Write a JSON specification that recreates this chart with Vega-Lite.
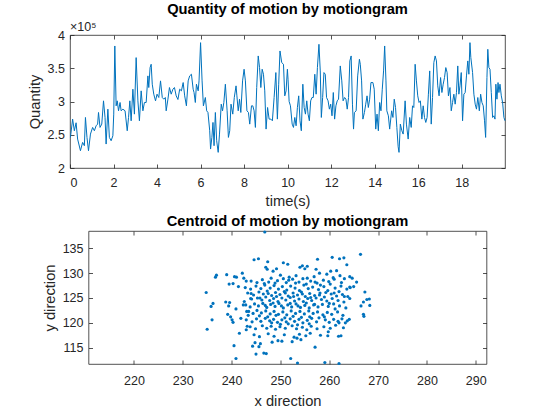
{
"$schema": "https://vega.github.io/schema/vega-lite/v6.json",
"background": "white",
"padding": {"left": 26, "top": 1, "right": 5, "bottom": 5},
"bounds": "flush",
"center": true,
"spacing": 63,
"config": {
  "font": "Liberation Sans",
  "view": {"stroke": "#262626", "strokeWidth": 0.8},
  "axis": {"domain": false, "grid": false, "tickSize": -4, "tickColor": "#262626", "tickWidth": 0.8, "labelColor": "#262626", "labelFontSize": 12.5, "labelFont": "Liberation Sans", "titleFont": "Liberation Sans", "titleFontSize": 14.7, "titleFontWeight": "normal", "titleColor": "#262626"},
  "title": {"font": "Liberation Sans", "fontSize": 14.7, "fontWeight": "bold", "color": "#000000", "frame": "group", "anchor": "middle"}
},
"datasets": {
"q": [
{"t":0.02,"q":246000},{"t":0.12,"q":273500},{"t":0.2,"q":256000},{"t":0.28,"q":268000},{"t":0.35,"q":243500},{"t":0.48,"q":226000},{"t":0.58,"q":238500},{"t":0.66,"q":233500},{"t":0.71,"q":276000},{"t":0.78,"q":246000},{"t":0.85,"q":226000},{"t":0.94,"q":251000},{"t":1.04,"q":261000},{"t":1.12,"q":256000},{"t":1.2,"q":263500},{"t":1.27,"q":266000},{"t":1.31,"q":283500},{"t":1.38,"q":261000},{"t":1.46,"q":266000},{"t":1.54,"q":301000},{"t":1.61,"q":276000},{"t":1.66,"q":236000},{"t":1.74,"q":288500},{"t":1.81,"q":246000},{"t":1.89,"q":241000},{"t":1.97,"q":248500},{"t":2.01,"q":281000},{"t":2.06,"q":383500},{"t":2.12,"q":293500},{"t":2.17,"q":301000},{"t":2.23,"q":286000},{"t":2.3,"q":298500},{"t":2.35,"q":286000},{"t":2.43,"q":288500},{"t":2.53,"q":286000},{"t":2.63,"q":256000},{"t":2.69,"q":276000},{"t":2.75,"q":301000},{"t":2.81,"q":271000},{"t":2.89,"q":318500},{"t":2.96,"q":281000},{"t":3.04,"q":366000},{"t":3.12,"q":301000},{"t":3.19,"q":271000},{"t":3.27,"q":316000},{"t":3.35,"q":286000},{"t":3.42,"q":298500},{"t":3.5,"q":298500},{"t":3.58,"q":338500},{"t":3.62,"q":321000},{"t":3.68,"q":351000},{"t":3.73,"q":356000},{"t":3.78,"q":326000},{"t":3.85,"q":311000},{"t":3.93,"q":301000},{"t":4.0,"q":311000},{"t":4.08,"q":306000},{"t":4.16,"q":331000},{"t":4.24,"q":306000},{"t":4.31,"q":303500},{"t":4.38,"q":306000},{"t":4.42,"q":286000},{"t":4.5,"q":303500},{"t":4.57,"q":321000},{"t":4.65,"q":311000},{"t":4.73,"q":318500},{"t":4.8,"q":321000},{"t":4.88,"q":308500},{"t":4.96,"q":303000},{"t":5.04,"q":318500},{"t":5.12,"q":316000},{"t":5.2,"q":328500},{"t":5.27,"q":308500},{"t":5.35,"q":293500},{"t":5.43,"q":331000},{"t":5.5,"q":338500},{"t":5.58,"q":341000},{"t":5.66,"q":318500},{"t":5.7,"q":313500},{"t":5.76,"q":298500},{"t":5.81,"q":326000},{"t":5.89,"q":316000},{"t":5.93,"q":331000},{"t":6.0,"q":388500},{"t":6.07,"q":331000},{"t":6.13,"q":293500},{"t":6.22,"q":306000},{"t":6.28,"q":286000},{"t":6.34,"q":283500},{"t":6.42,"q":256000},{"t":6.46,"q":228500},{"t":6.52,"q":246000},{"t":6.57,"q":268500},{"t":6.62,"q":233500},{"t":6.68,"q":283500},{"t":6.74,"q":241000},{"t":6.81,"q":223500},{"t":6.87,"q":251000},{"t":6.95,"q":296000},{"t":7.01,"q":286000},{"t":7.07,"q":298500},{"t":7.14,"q":326000},{"t":7.22,"q":286000},{"t":7.28,"q":246000},{"t":7.34,"q":256000},{"t":7.4,"q":296000},{"t":7.48,"q":281000},{"t":7.55,"q":306000},{"t":7.63,"q":323500},{"t":7.67,"q":308500},{"t":7.73,"q":286000},{"t":7.79,"q":303500},{"t":7.85,"q":283500},{"t":7.93,"q":331000},{"t":8.0,"q":348500},{"t":8.06,"q":331000},{"t":8.13,"q":286000},{"t":8.2,"q":283500},{"t":8.26,"q":266000},{"t":8.34,"q":293500},{"t":8.4,"q":293500},{"t":8.46,"q":286000},{"t":8.52,"q":261000},{"t":8.58,"q":321000},{"t":8.65,"q":368500},{"t":8.71,"q":351000},{"t":8.77,"q":321000},{"t":8.83,"q":348500},{"t":8.89,"q":341000},{"t":8.95,"q":316000},{"t":9.01,"q":258500},{"t":9.08,"q":291000},{"t":9.15,"q":273500},{"t":9.23,"q":273500},{"t":9.3,"q":271000},{"t":9.38,"q":306000},{"t":9.46,"q":343500},{"t":9.53,"q":273500},{"t":9.59,"q":326000},{"t":9.65,"q":376000},{"t":9.73,"q":358500},{"t":9.81,"q":356000},{"t":9.87,"q":308500},{"t":9.93,"q":316000},{"t":9.99,"q":348500},{"t":10.02,"q":333500},{"t":10.07,"q":300000},{"t":10.13,"q":293500},{"t":10.21,"q":266000},{"t":10.27,"q":261000},{"t":10.33,"q":276000},{"t":10.39,"q":263500},{"t":10.45,"q":291000},{"t":10.51,"q":308500},{"t":10.57,"q":271000},{"t":10.63,"q":256000},{"t":10.7,"q":326000},{"t":10.76,"q":291000},{"t":10.82,"q":281000},{"t":10.88,"q":301000},{"t":10.94,"q":281000},{"t":11.0,"q":271000},{"t":11.06,"q":301000},{"t":11.12,"q":306000},{"t":11.18,"q":306000},{"t":11.25,"q":341000},{"t":11.31,"q":311000},{"t":11.37,"q":351000},{"t":11.44,"q":386000},{"t":11.5,"q":346000},{"t":11.55,"q":276000},{"t":11.61,"q":306000},{"t":11.67,"q":343500},{"t":11.73,"q":341000},{"t":11.79,"q":306000},{"t":11.86,"q":301000},{"t":11.92,"q":288500},{"t":11.98,"q":296000},{"t":12.04,"q":278500},{"t":12.1,"q":313500},{"t":12.16,"q":273500},{"t":12.22,"q":293500},{"t":12.28,"q":301000},{"t":12.34,"q":303500},{"t":12.42,"q":353500},{"t":12.49,"q":331000},{"t":12.55,"q":301000},{"t":12.62,"q":306000},{"t":12.68,"q":303500},{"t":12.74,"q":288500},{"t":12.8,"q":306000},{"t":12.86,"q":361000},{"t":12.92,"q":368500},{"t":12.98,"q":296000},{"t":13.03,"q":258500},{"t":13.07,"q":283500},{"t":13.15,"q":286000},{"t":13.22,"q":338500},{"t":13.3,"q":363500},{"t":13.34,"q":356000},{"t":13.4,"q":331000},{"t":13.46,"q":273500},{"t":13.53,"q":283500},{"t":13.59,"q":296000},{"t":13.65,"q":308500},{"t":13.71,"q":291000},{"t":13.77,"q":303500},{"t":13.83,"q":328500},{"t":13.92,"q":328500},{"t":13.98,"q":318500},{"t":14.05,"q":258500},{"t":14.11,"q":281000},{"t":14.17,"q":256000},{"t":14.23,"q":298500},{"t":14.29,"q":286000},{"t":14.35,"q":318500},{"t":14.41,"q":346000},{"t":14.46,"q":383500},{"t":14.52,"q":331000},{"t":14.56,"q":286000},{"t":14.63,"q":278500},{"t":14.69,"q":258500},{"t":14.78,"q":286000},{"t":14.84,"q":276000},{"t":14.9,"q":303500},{"t":14.96,"q":291000},{"t":15.02,"q":261000},{"t":15.08,"q":232000},{"t":15.12,"q":223500},{"t":15.18,"q":266000},{"t":15.25,"q":256000},{"t":15.31,"q":251000},{"t":15.4,"q":301000},{"t":15.46,"q":266000},{"t":15.54,"q":243500},{"t":15.61,"q":276000},{"t":15.68,"q":261000},{"t":15.74,"q":293500},{"t":15.8,"q":291000},{"t":15.86,"q":356000},{"t":15.92,"q":331000},{"t":15.98,"q":308500},{"t":16.04,"q":298500},{"t":16.1,"q":301000},{"t":16.17,"q":273500},{"t":16.23,"q":293500},{"t":16.29,"q":276000},{"t":16.35,"q":268500},{"t":16.41,"q":276000},{"t":16.47,"q":311000},{"t":16.53,"q":346000},{"t":16.6,"q":266000},{"t":16.66,"q":306000},{"t":16.72,"q":358500},{"t":16.78,"q":368500},{"t":16.84,"q":361000},{"t":16.9,"q":323500},{"t":16.96,"q":308500},{"t":17.03,"q":336000},{"t":17.09,"q":313500},{"t":17.15,"q":326000},{"t":17.21,"q":336000},{"t":17.27,"q":351000},{"t":17.33,"q":343500},{"t":17.39,"q":308500},{"t":17.46,"q":321000},{"t":17.52,"q":286000},{"t":17.58,"q":298500},{"t":17.64,"q":311000},{"t":17.7,"q":296000},{"t":17.76,"q":313500},{"t":17.82,"q":353500},{"t":17.87,"q":311000},{"t":17.92,"q":323500},{"t":17.98,"q":343500},{"t":18.04,"q":271000},{"t":18.1,"q":311000},{"t":18.16,"q":313500},{"t":18.22,"q":338500},{"t":18.28,"q":361000},{"t":18.33,"q":341000},{"t":18.38,"q":388500},{"t":18.42,"q":366000},{"t":18.5,"q":343500},{"t":18.56,"q":311000},{"t":18.62,"q":296000},{"t":18.68,"q":288500},{"t":18.74,"q":306000},{"t":18.81,"q":286000},{"t":18.87,"q":311000},{"t":18.93,"q":298500},{"t":18.99,"q":293500},{"t":19.05,"q":271000},{"t":19.1,"q":246000},{"t":19.16,"q":336000},{"t":19.2,"q":378500},{"t":19.25,"q":351000},{"t":19.3,"q":348500},{"t":19.36,"q":313500},{"t":19.42,"q":276000},{"t":19.48,"q":278500},{"t":19.53,"q":273500},{"t":19.57,"q":326000},{"t":19.62,"q":303500},{"t":19.67,"q":328500},{"t":19.71,"q":313500},{"t":19.76,"q":326000},{"t":19.82,"q":308500},{"t":19.88,"q":298500},{"t":19.94,"q":276000},{"t":19.99,"q":271000}
],
"c": [
{"x":234.8,"y":126.1},{"x":235.0,"y":118.7},{"x":235.8,"y":123.3},{"x":236.2,"y":123.9},{"x":236.0,"y":120.6},{"x":236.7,"y":129.2},{"x":236.9,"y":129.6},{"x":239.0,"y":129.7},{"x":238.8,"y":124.2},{"x":239.6,"y":124.1},{"x":239.4,"y":123.4},{"x":239.2,"y":121.7},{"x":239.8,"y":121.2},{"x":240.1,"y":120.6},{"x":240.3,"y":120.1},{"x":239.5,"y":127.8},{"x":240.3,"y":127.9},{"x":240.6,"y":129.3},{"x":241.0,"y":129.2},{"x":240.5,"y":115.4},{"x":240.9,"y":112.8},{"x":241.6,"y":117.9},{"x":241.4,"y":127.3},{"x":240.9,"y":122.8},{"x":241.9,"y":120.9},{"x":242.2,"y":130.0},{"x":242.5,"y":129.0},{"x":243.0,"y":128.4},{"x":242.6,"y":124.3},{"x":242.4,"y":123.6},{"x":243.2,"y":119.3},{"x":243.0,"y":118.6},{"x":243.4,"y":121.5},{"x":243.1,"y":122.3},{"x":243.9,"y":124.9},{"x":244.3,"y":115.3},{"x":244.8,"y":116.0},{"x":245.0,"y":113.7},{"x":245.6,"y":115.2},{"x":245.9,"y":115.8},{"x":244.6,"y":132.7},{"x":245.5,"y":132.9},{"x":246.8,"y":138.3},{"x":246.6,"y":113.9},{"x":247.1,"y":113.8},{"x":247.0,"y":131.2},{"x":247.4,"y":132.3},{"x":248.3,"y":116.1},{"x":249.5,"y":116.4},{"x":250.3,"y":116.3},{"x":250.6,"y":132.1},{"x":251.5,"y":131.8},{"x":252.1,"y":112.8},{"x":253.5,"y":111.9},{"x":252.4,"y":116.2},{"x":253.4,"y":116.9},{"x":254.2,"y":116.6},{"x":254.0,"y":131.2},{"x":254.5,"y":131.5},{"x":255.5,"y":131.4},{"x":257.1,"y":115.1},{"x":257.6,"y":132.8},{"x":259.1,"y":112.0},{"x":260.6,"y":133.2},{"x":262.0,"y":111.8},{"x":262.1,"y":132.9},{"x":263.0,"y":133.1},{"x":263.6,"y":131.7},{"x":266.4,"y":133.8},{"x":264.2,"y":129.3},{"x":264.7,"y":129.0},{"x":264.3,"y":127.1},{"x":265.0,"y":127.3},{"x":265.6,"y":128.2},{"x":266.5,"y":123.4},{"x":267.0,"y":124.2},{"x":267.3,"y":126.2},{"x":267.7,"y":124.7},{"x":268.2,"y":124.8},{"x":268.3,"y":123.5},{"x":267.0,"y":121.7},{"x":267.1,"y":121.3},{"x":263.3,"y":120.0},{"x":263.7,"y":120.4},{"x":264.1,"y":120.7},{"x":261.9,"y":117.3},{"x":262.4,"y":117.4},{"x":259.7,"y":117.4},{"x":259.8,"y":118.2},{"x":263.8,"y":125.3},{"x":264.2,"y":124.9},{"x":263.1,"y":125.3},
{"x":247.3,"y":130.8},{"x":248.5,"y":130.4},{"x":249.2,"y":130.9},{"x":250.0,"y":129.6},{"x":251.8,"y":129.2},{"x":253.2,"y":129.5},{"x":255.0,"y":130.9},{"x":255.5,"y":129.0},{"x":256.9,"y":129.3},{"x":258.0,"y":130.0},{"x":259.5,"y":129.8},{"x":260.3,"y":130.4},{"x":261.5,"y":130.5},{"x":262.2,"y":129.5},{"x":260.8,"y":129.1},{"x":257.3,"y":130.8},
{"x":244.0,"y":128.4},{"x":245.2,"y":128.1},{"x":246.3,"y":128.7},{"x":247.6,"y":128.2},{"x":248.1,"y":129.0},{"x":249.4,"y":128.5},{"x":250.6,"y":128.9},{"x":251.2,"y":128.1},{"x":252.5,"y":128.8},{"x":253.8,"y":128.2},{"x":254.6,"y":128.9},{"x":256.2,"y":128.4},{"x":257.5,"y":128.0},{"x":258.8,"y":128.6},{"x":259.9,"y":128.3},{"x":261.0,"y":128.8},{"x":262.5,"y":128.1},{"x":263.1,"y":128.9},{"x":260.2,"y":127.8},
{"x":242.8,"y":127.1},{"x":243.9,"y":126.8},{"x":245.0,"y":127.4},{"x":246.0,"y":126.9},{"x":246.8,"y":127.6},{"x":247.9,"y":127.0},{"x":248.7,"y":127.5},{"x":249.6,"y":126.8},{"x":250.4,"y":127.3},{"x":251.3,"y":126.6},{"x":252.1,"y":127.4},{"x":253.0,"y":127.0},{"x":253.9,"y":126.5},{"x":254.8,"y":127.6},{"x":255.7,"y":126.9},{"x":256.6,"y":127.2},{"x":257.8,"y":126.7},{"x":258.9,"y":127.3},{"x":259.7,"y":126.5},{"x":261.2,"y":127.0},{"x":262.0,"y":126.3},{"x":263.6,"y":126.8},{"x":264.2,"y":127.2},
{"x":243.3,"y":126.0},{"x":244.5,"y":125.6},{"x":245.6,"y":126.2},{"x":246.5,"y":125.8},{"x":247.3,"y":126.4},{"x":248.2,"y":125.5},{"x":249.0,"y":126.1},{"x":249.9,"y":125.7},{"x":250.8,"y":126.3},{"x":251.6,"y":125.4},{"x":252.6,"y":126.0},{"x":253.5,"y":125.6},{"x":254.3,"y":126.2},{"x":255.1,"y":125.3},{"x":256.0,"y":125.9},{"x":257.0,"y":125.5},{"x":258.1,"y":126.0},{"x":259.0,"y":125.2},{"x":260.4,"y":125.8},{"x":261.5,"y":125.4},{"x":262.7,"y":125.7},
{"x":244.1,"y":124.8},{"x":245.3,"y":125.0},{"x":246.2,"y":124.6},{"x":247.0,"y":125.2},{"x":247.8,"y":124.5},{"x":248.6,"y":124.9},{"x":249.5,"y":124.3},{"x":250.3,"y":125.0},{"x":251.1,"y":124.6},{"x":252.0,"y":125.1},{"x":252.9,"y":124.4},{"x":253.8,"y":124.8},{"x":254.7,"y":124.3},{"x":255.6,"y":124.9},{"x":256.4,"y":124.5},{"x":257.3,"y":125.0},{"x":258.4,"y":124.7},{"x":259.5,"y":124.4},{"x":260.6,"y":124.9},{"x":261.8,"y":124.5},{"x":263.0,"y":124.2},
{"x":242.9,"y":123.6},{"x":243.8,"y":123.2},{"x":244.7,"y":123.8},{"x":245.5,"y":123.4},{"x":246.4,"y":123.9},{"x":247.2,"y":123.1},{"x":248.0,"y":123.7},{"x":248.9,"y":123.3},{"x":249.7,"y":123.9},{"x":250.6,"y":123.0},{"x":251.5,"y":123.6},{"x":252.3,"y":123.2},{"x":253.2,"y":123.8},{"x":254.1,"y":123.1},{"x":255.0,"y":123.5},{"x":255.9,"y":123.0},{"x":256.8,"y":123.6},{"x":257.7,"y":123.2},{"x":258.6,"y":123.7},{"x":259.8,"y":123.3},{"x":260.9,"y":123.8},{"x":262.1,"y":123.4},
{"x":243.5,"y":122.3},{"x":244.4,"y":121.9},{"x":245.2,"y":122.5},{"x":246.1,"y":122.0},{"x":247.0,"y":122.4},{"x":247.9,"y":121.8},{"x":248.7,"y":122.3},{"x":249.6,"y":121.7},{"x":250.5,"y":122.2},{"x":251.3,"y":121.6},{"x":252.2,"y":122.4},{"x":253.1,"y":121.9},{"x":254.0,"y":122.3},{"x":254.9,"y":121.8},{"x":255.8,"y":122.4},{"x":256.7,"y":121.9},{"x":257.6,"y":122.2},{"x":258.7,"y":121.6},{"x":259.6,"y":122.1},{"x":260.5,"y":121.7},{"x":261.7,"y":122.2},{"x":262.8,"y":121.5},
{"x":243.0,"y":120.6},{"x":244.2,"y":120.2},{"x":245.1,"y":120.8},{"x":246.0,"y":120.3},{"x":246.9,"y":120.9},{"x":247.8,"y":120.4},{"x":248.6,"y":120.7},{"x":249.4,"y":120.1},{"x":250.3,"y":120.6},{"x":251.2,"y":120.2},{"x":252.0,"y":120.8},{"x":252.9,"y":120.3},{"x":253.8,"y":120.7},{"x":254.6,"y":120.0},{"x":255.5,"y":120.5},{"x":256.4,"y":120.9},{"x":257.4,"y":120.2},{"x":259.2,"y":120.6},{"x":260.0,"y":120.1},{"x":260.9,"y":120.7},{"x":261.8,"y":120.3},{"x":262.6,"y":120.8},
{"x":243.8,"y":119.2},{"x":244.9,"y":118.8},{"x":246.3,"y":119.4},{"x":247.2,"y":118.9},{"x":248.1,"y":119.3},{"x":249.0,"y":118.7},{"x":249.9,"y":119.2},{"x":251.0,"y":118.9},{"x":252.4,"y":119.4},{"x":253.3,"y":118.8},{"x":254.5,"y":119.1},{"x":255.4,"y":118.6},{"x":256.3,"y":119.3},{"x":257.5,"y":118.8},{"x":258.9,"y":119.2},{"x":260.2,"y":118.9},{"x":261.3,"y":119.5},
{"x":244.6,"y":117.6},{"x":245.7,"y":117.2},{"x":247.5,"y":117.8},{"x":248.7,"y":117.3},{"x":250.8,"y":117.6},{"x":252.8,"y":117.1},{"x":253.9,"y":117.7},{"x":255.2,"y":117.4},{"x":256.1,"y":117.9},{"x":258.2,"y":117.5},
{"x":246.7,"y":127.9},{"x":248.9,"y":128.0},{"x":251.7,"y":128.6},{"x":253.1,"y":128.0},{"x":255.3,"y":127.8},{"x":257.1,"y":128.2},{"x":245.8,"y":125.0},{"x":247.5,"y":125.9},{"x":249.2,"y":125.3},{"x":251.0,"y":126.0},{"x":252.7,"y":125.3},{"x":254.5,"y":125.8},{"x":256.2,"y":125.1},{"x":258.0,"y":125.6},{"x":246.9,"y":123.5},{"x":248.5,"y":124.0},{"x":250.2,"y":123.4},{"x":252.0,"y":123.9},{"x":253.6,"y":123.4},{"x":255.3,"y":124.0},{"x":257.0,"y":123.7},{"x":245.7,"y":121.4},{"x":247.4,"y":121.2},{"x":249.1,"y":121.5},{"x":250.9,"y":121.0},{"x":252.6,"y":121.3},{"x":254.3,"y":121.1},{"x":256.0,"y":121.2},{"x":257.9,"y":121.0},{"x":248.2,"y":120.0},{"x":250.0,"y":119.7},{"x":251.6,"y":119.8},{"x":253.5,"y":119.6},{"x":255.9,"y":119.8},{"x":244.0,"y":125.9},{"x":258.2,"y":127.6},{"x":259.3,"y":126.1},{"x":260.0,"y":123.9},{"x":261.2,"y":122.8},{"x":259.0,"y":121.2},{"x":262.4,"y":127.4},{"x":261.0,"y":126.0},{"x":263.4,"y":123.0},{"x":262.0,"y":120.0},{"x":262.9,"y":119.0}
]
},
"vconcat": [
{
  "title": {"text": "Quantity of motion by motiongram", "offset": 4},
  "width": 435, "height": 133,
  "layer": [
    {
      "data": {"name": "q"},
      "mark": {"type": "line", "color": "#0072BD", "strokeWidth": 1},
      "encoding": {
        "x": {"field": "t", "type": "quantitative", "scale": {"domain": [0, 19.99], "nice": false, "zero": false},
              "axis": {"values": [0,2,4,6,8,10,12,14,16,18], "title": "time(s)", "labelPadding": 12, "titlePadding": 5}},
        "y": {"field": "q", "type": "quantitative", "scale": {"domain": [200000, 400000], "nice": false, "zero": false},
              "axis": {"values": [200000,250000,300000,350000,400000], "labelExpr": "datum.value / 100000", "title": "Quantity", "labelPadding": 9.5, "titlePadding": 5}}
      }
    },
    {
      "data": {"values": [{}]},
      "mark": {"type": "text", "text": "×10⁵", "align": "left", "baseline": "bottom", "dy": -1, "fontSize": 12.5, "color": "#262626", "font": "Liberation Sans"},
      "encoding": {
        "x": {"datum": 0, "type": "quantitative", "axis": {"orient": "top", "labels": false, "title": null, "values": [0,2,4,6,8,10,12,14,16,18]}},
        "y": {"datum": 400000, "type": "quantitative", "axis": {"orient": "right", "labels": false, "title": null, "values": [200000,250000,300000,350000,400000]}}
      }
    }
  ],
  "resolve": {"axis": {"x": "independent", "y": "independent"}}
},
{
  "title": {"text": "Centroid of motion by motiongram", "offset": 2},
  "width": 398, "height": 133,
  "layer": [
    {
      "data": {"name": "c"},
      "mark": {"type": "circle", "size": 10, "color": "#0072BD", "opacity": 1},
      "encoding": {
        "x": {"field": "x", "type": "quantitative", "scale": {"domain": [210.7, 292.2], "nice": false, "zero": false},
              "axis": {"values": [220,230,240,250,260,270,280,290], "title": "x direction", "labelPadding": 14, "titlePadding": 7}},
        "y": {"field": "y", "type": "quantitative", "scale": {"domain": [111.7, 138.5], "nice": false, "zero": false},
              "axis": {"values": [115,120,125,130,135], "title": "y direction", "labelPadding": 9.5, "titlePadding": 5}}
      }
    },
    {
      "data": {"values": [{}]},
      "mark": {"type": "text", "text": ""},
      "encoding": {
        "x": {"datum": 250, "type": "quantitative", "axis": {"orient": "top", "labels": false, "title": null, "values": [220,230,240,250,260,270,280,290]}},
        "y": {"datum": 125, "type": "quantitative", "axis": {"orient": "right", "labels": false, "title": null, "values": [115,120,125,130,135]}}
      }
    }
  ],
  "resolve": {"axis": {"x": "independent", "y": "independent"}}
}
]
}
